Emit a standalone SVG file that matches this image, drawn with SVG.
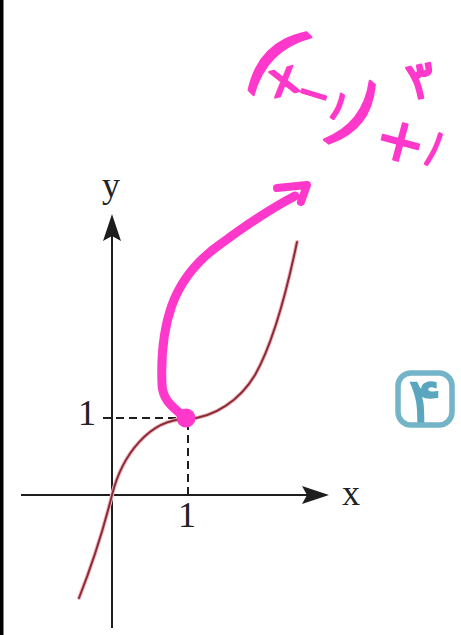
<svg xmlns="http://www.w3.org/2000/svg" width="461" height="635" viewBox="0 0 461 635">
<style>
.ax{stroke:#1e1e1e;stroke-width:2;fill:none}
.dash{stroke:#1e1e1e;stroke-width:2;stroke-dasharray:8 5;fill:none}
.head{fill:#1e1e1e}
.lbl{font-family:"Liberation Serif","Times New Roman",serif;font-size:36px;fill:#222;text-anchor:middle}
.curve{stroke:#8a2c36;stroke-width:2;fill:none;stroke-linecap:round}
.halo{stroke:#f2b8bf;stroke-width:4;fill:none;stroke-linecap:round}
.mg{stroke:#ff38cc;fill:none;stroke-linecap:round;stroke-linejoin:round}
.hw{font-family:"DejaVu Sans","Noto Sans",sans-serif;fill:#ff38cc;stroke:#ff38cc;stroke-width:2;stroke-linejoin:round;text-anchor:middle;dominant-baseline:central}
</style>
<rect x="0" y="0" width="461" height="635" fill="#ffffff"/>
<rect x="0" y="0" width="3.5" height="635" fill="#000000"/>

<g id="axes">
  <line class="ax" x1="112" y1="628" x2="112" y2="236"/>
  <polygon class="head" points="112,214 103,241 112,236 121,241"/>
  <line class="ax" x1="21" y1="495" x2="308" y2="495"/>
  <polygon class="head" points="329,495 302,486 307,495 302,504"/>
  <line class="dash" x1="103" y1="418" x2="186" y2="418"/>
  <line class="dash" x1="188" y1="422" x2="188" y2="500"/>
</g>

<g id="labels">
  <text class="lbl" x="111" y="197">y</text>
  <text class="lbl" x="351" y="505">x</text>
  <text class="lbl" x="87" y="425">1</text>
  <text class="lbl" x="187" y="527">1</text>
</g>

<g id="curve">
  <path class="halo" d="M297,242 C287,290 272,345 255,375 C240,400 215,417 188,419 C150,418 122,455 112,495 C104,527 92,565 79,598"/>
  <path class="curve" d="M297,242 C287,290 272,345 255,375 C240,400 215,417 188,419 C150,418 122,455 112,495 C104,527 92,565 79,598"/>
</g>

<g id="annotation">
  <path class="mg" stroke-width="9" d="M185,418 C175,408 163,402 162,385 C161,360 163,330 172,305 C182,278 200,258 222,243 C245,226 268,210 295,196"/>
  <polyline class="mg" stroke-width="8" points="277,188 307,185 301,202"/>
  <circle cx="186" cy="418" r="9.5" fill="#ff38cc"/>
  <text class="hw" font-size="92" transform="translate(277,57) rotate(45)">(</text>
  <text class="hw" font-size="48" transform="translate(283,78) rotate(-15)">x</text>
  <text class="hw" font-size="40" transform="translate(314,93) rotate(17)">−</text>
  <text class="hw" font-size="40" transform="translate(339,106) rotate(34)">۱</text>
  <text class="hw" font-size="84" transform="translate(356,114) rotate(38)">)</text>
  <text class="hw" font-size="52" transform="translate(421,80) rotate(-12)">۳</text>
  <text class="hw" font-size="60" transform="translate(401,140) rotate(15)">+</text>
  <text class="hw" font-size="32" transform="translate(435,148) rotate(32) scale(1,1.6)">۱</text>
</g>

<g id="badge">
  <rect x="398" y="373" width="54" height="52" rx="13" fill="none" stroke="#74b4c9" stroke-width="5.5"/>
  <text x="425" y="400" font-family="DejaVu Sans,Noto Sans,sans-serif" font-size="62" fill="#5aa6bf" stroke="#5aa6bf" stroke-width="1.5" text-anchor="middle" dominant-baseline="central">۴</text>
</g>
</svg>
